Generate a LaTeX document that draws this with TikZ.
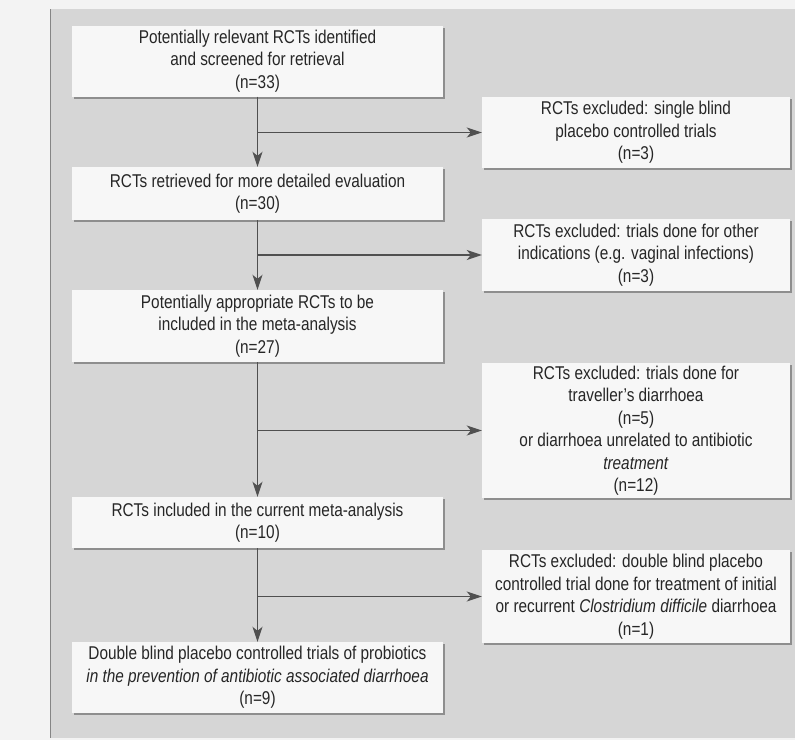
\documentclass[tikz,border=0pt]{standalone}
\usepackage{fontspec}
\setmainfont[FakeStretch=0.83]{Liberation Sans}
\usetikzlibrary{arrows.meta,shadows}
\definecolor{pagec}{HTML}{F3F3F3}
\definecolor{panelc}{HTML}{D6D6D6}
\definecolor{boxc}{HTML}{F7F7F7}
\definecolor{inkc}{HTML}{262626}
\definecolor{linec}{HTML}{505050}
\definecolor{shadc}{HTML}{8E8E8E}
\tikzset{
  box/.style={fill=boxc, draw=none, inner sep=0pt, align=center, text=inkc,
    font=\fontsize{18.5}{22.5}\selectfont,
    drop shadow={shadow xshift=2pt, shadow yshift=-2pt, fill=shadc, opacity=1}},
  arr/.style={draw=linec, line width=1.6pt, -{Stealth[length=15pt,width=10pt,inset=4pt]}},
}
\begin{document}
\begin{tikzpicture}[x=1pt,y=-1pt]
\useasboundingbox (0,0) rectangle (795,740);
\fill[pagec] (0,0) rectangle (795,740);
\fill[panelc] (50,9) rectangle (795,738);
\draw[linec!70, line width=1pt] (50.5,9) -- (50.5,738);

\node[box, minimum width=371pt, minimum height=71pt] (b1) at (257.5,61)
  {Potentially relevant RCTs identified\\and screened for retrieval\\(n=33)};
\node[box, minimum width=371pt, minimum height=53pt] (b2) at (257.5,193.5)
  {RCTs retrieved for more detailed evaluation\\(n=30)};
\node[box, minimum width=371pt, minimum height=72pt] (b3) at (257.5,326)
  {Potentially appropriate RCTs to be\\included in the meta-analysis\\(n=27)};
\node[box, minimum width=371pt, minimum height=51pt] (b4) at (257.5,522.5)
  {RCTs included in the current meta-analysis\\(n=10)};
\node[box, minimum width=371pt, minimum height=71pt] (b5) at (257.5,677.5)
  {Double blind placebo controlled trials of probiotics\\\itshape in the prevention of antibiotic associated diarrhoea\\(n=9)};

\node[box, minimum width=308pt, minimum height=71pt] (r1) at (636,132.5)
  {RCTs excluded: single blind\\placebo controlled trials\\(n=3)};
\node[box, minimum width=308pt, minimum height=72pt] (r2) at (636,255)
  {RCTs excluded: trials done for other\\indications (e.g. vaginal infections)\\(n=3)};
\node[box, minimum width=308pt, minimum height=135pt] (r3) at (636,430.5)
  {RCTs excluded: trials done for\\traveller's diarrhoea\\(n=5)\\or diarrhoea unrelated to antibiotic\\\textit{treatment}\\(n=12)};
\node[box, minimum width=308pt, minimum height=93pt] (r4) at (636,596.5)
  {RCTs excluded: double blind placebo\\controlled trial done for treatment of initial\\or recurrent \textit{Clostridium difficile} diarrhoea\\(n=1)};

\draw[arr] (b1.south) -- (b2.north);
\draw[arr] (b2.south) -- (b3.north);
\draw[arr] (b3.south) -- (b4.north);
\draw[arr] (b4.south) -- (b5.north);
\draw[arr] (b1.south |- r1.west) -- (r1.west);
\draw[arr] (b2.south |- r2.west) -- (r2.west);
\draw[arr] (b3.south |- r3.west) -- (r3.west);
\draw[arr] (b4.south |- r4.west) -- (r4.west);
\end{tikzpicture}
\end{document}
